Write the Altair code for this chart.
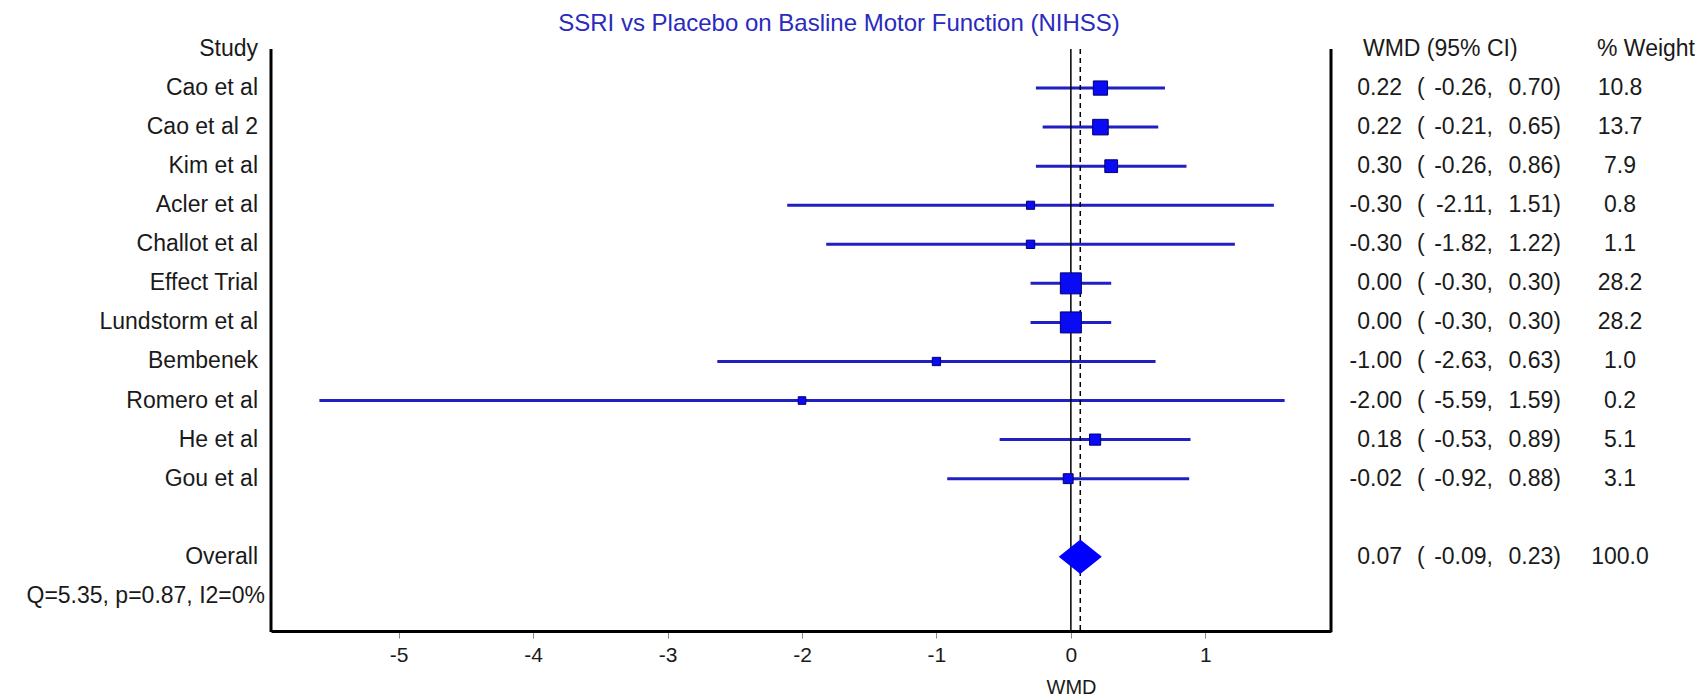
import altair as alt
import pandas as pd

# ---- data ----
studies = ["Cao et al", "Cao et al 2", "Kim et al", "Acler et al", "Challot et al",
           "Effect Trial", "Lundstorm et al", "Bembenek", "Romero et al", "He et al", "Gou et al"]
wmd = [0.22, 0.22, 0.30, -0.30, -0.30, 0.00, 0.00, -1.00, -2.00, 0.18, -0.02]
lower = [-0.26, -0.21, -0.26, -2.11, -1.82, -0.30, -0.30, -2.63, -5.59, -0.53, -0.92]
upper = [0.70, 0.65, 0.86, 1.51, 1.22, 0.30, 0.30, 0.63, 1.59, 0.89, 0.88]
weight = [10.8, 13.7, 7.9, 0.8, 1.1, 28.2, 28.2, 1.0, 0.2, 5.1, 3.1]

overall_label = "Overall"
overall_wmd = 0.07
overall_lower = -0.09
overall_upper = 0.23
overall_weight = 100.0

het_text = "Q=5.35, p=0.87, I2=0%"
title_text = "SSRI vs Placebo on Basline Motor Function (NIHSS)"
x_ticks = [-5, -4, -3, -2, -1, 0, 1]

# ---- layout constants ----
W, H = 1060, 582
FONT = "Liberation Sans"
TXT = "#1a1a1a"
BLUE_LINE = "#1f1fc4"
BLUE_FILL = "#0a0af5"

rows = list(range(1, len(studies) + 1))
overall_row = len(studies) + 2
het_row = overall_row + 1

df = pd.DataFrame({
    "study": studies, "row": rows, "wmd": wmd, "lower": lower, "upper": upper,
    "weight": weight,
})

tab = pd.DataFrame({
    "label": studies + [overall_label],
    "row": rows + [overall_row],
    "est": [f"{v:.2f}" for v in wmd + [overall_wmd]],
    "lo": [f"{v:.2f}," for v in lower + [overall_lower]],
    "hi": [f"{v:.2f})" for v in upper + [overall_upper]],
    "wt": [f"{v:.1f}" for v in weight + [overall_weight]],
})

diamond = pd.DataFrame({
    "x": [overall_lower, overall_wmd, overall_upper],
    "y": [overall_row, overall_row - 0.44, overall_row],
    "y2": [overall_row, overall_row + 0.44, overall_row],
})

xscale = alt.Scale(domain=[-5.95, 1.935], nice=False, zero=False)
yscale = alt.Scale(domain=[0, 14.9], nice=False, zero=False, reverse=True)
xaxis = alt.Axis(values=x_ticks, labelExpr="datum.value + ''", grid=False,
                 domainColor="black", domainWidth=3, tickColor="#888888",
                 tickSize=7, tickWidth=1, labelFontSize=21, labelFont=FONT,
                 labelColor=TXT, labelPadding=6, title="WMD", titleFont=FONT,
                 titleFontSize=20, titleFontWeight="normal", titleColor=TXT,
                 titleX=800, titleY=56, titleAlign="center", titleBaseline="middle")


def X(field):
    return alt.X(field, type="quantitative", scale=xscale, axis=xaxis)


def Y(field):
    return alt.Y(field, type="quantitative", scale=yscale, axis=None)


ci = alt.Chart(df).mark_rule(strokeWidth=3, color=BLUE_LINE).encode(
    x=X("lower"), x2="upper", y=Y("row"))

boxes = alt.Chart(df).mark_point(shape="square", filled=True, opacity=1,
                                 fill=BLUE_FILL, stroke="#000070", strokeWidth=1).encode(
    x=X("wmd"), y=Y("row"),
    size=alt.Size("weight:Q", scale=alt.Scale(domain=[0, 28.2], range=[55, 441]), legend=None))

diam = alt.Chart(diamond).mark_area(color="#0000ff", opacity=1).encode(
    x=X("x"), y=Y("y"), y2="y2")

ref0 = alt.Chart(pd.DataFrame({"v": [0.0]})).mark_rule(color="black", strokeWidth=1.5).encode(
    x=X("v"), y=alt.value(0), y2=alt.value(H))
refd = alt.Chart(pd.DataFrame({"v": [overall_wmd]})).mark_rule(
    color="black", strokeWidth=1.5, strokeDash=[5, 4]).encode(
    x=X("v"), y=alt.value(0), y2=alt.value(H))

frame_l = alt.Chart(pd.DataFrame({"a": [0]})).mark_rule(color="black", strokeWidth=3).encode(
    x=alt.value(0), y=alt.value(0), y2=alt.value(H + 1))
frame_r = alt.Chart(pd.DataFrame({"a": [0]})).mark_rule(color="black", strokeWidth=3).encode(
    x=alt.value(W), y=alt.value(0), y2=alt.value(H + 1))


def txt(data, field, xpix, align, size=23, color=TXT):
    return alt.Chart(data).mark_text(align=align, baseline="middle", font=FONT,
                                     fontSize=size, color=color).encode(
        x=alt.value(xpix), y=Y("row"), text=f"{field}:N")


labels = txt(tab, "label", -13, "right")
est_t = txt(tab, "est", 1131, "right")
paren = alt.Chart(tab).mark_text(align="left", baseline="middle", font=FONT, fontSize=23,
                                 color=TXT, text="(").encode(x=alt.value(1146), y=Y("row"))
lo_t = txt(tab, "lo", 1222, "right")
hi_t = txt(tab, "hi", 1290, "right")
wt_t = txt(tab, "wt", 1349, "center")

hdr = pd.DataFrame({"row": [0], "study": ["Study"], "ci": ["WMD (95% CI)"], "w": ["% Weight"]})
hdr_study = txt(hdr, "study", -13, "right")
hdr_ci = txt(hdr, "ci", 1092, "left")
hdr_w = txt(hdr, "w", 1326, "left")

het = txt(pd.DataFrame({"row": [het_row], "t": [het_text]}), "t", -6, "right")

title = alt.Chart(pd.DataFrame({"t": [title_text]})).mark_text(
    align="center", baseline="middle", font=FONT, fontSize=24, color="#2a2ac0").encode(
    x=alt.value(568), y=alt.value(-25), text="t:N")

chart = alt.layer(
    ci, ref0, refd, boxes, diam, frame_l, frame_r,
    labels, est_t, paren, lo_t, hi_t, wt_t, hdr_study, hdr_ci, hdr_w, het, title
).properties(
    width=W, height=H,
    padding={"left": 271, "top": 49, "right": 377, "bottom": 65},
    autosize=alt.AutoSizeParams(type="none"),
    background="white",
).configure_view(stroke=None)

chart.save("out.html", embed_options={"renderer": "svg", "actions": False})
